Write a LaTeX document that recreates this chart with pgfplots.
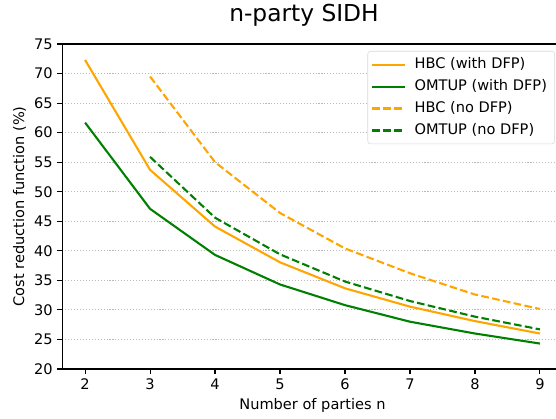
\documentclass[border=0pt]{standalone}
\usepackage{fontspec}
\setmainfont{DejaVu Sans}
\usepackage{pgfplots}
\pgfplotsset{compat=1.18}
\definecolor{mplorange}{HTML}{FFA500}
\definecolor{mplgreen}{HTML}{008000}
\begin{document}
\begin{tikzpicture}
\path[use as bounding box] (-44.9pt,-36pt) rectangle (355.5pt,265.7pt);
\begin{axis}[
  scale only axis,
  width=360.3pt, height=234pt,
  xmin=1.65, xmax=9.35, ymin=20, ymax=75,
  xtick={2,3,4,5,6,7,8,9},
  ytick={20,25,30,35,40,45,50,55,60,65,70,75},
  /pgf/number format/assume math mode=true,
  tick align=outside,
  major tick length=3.5pt,
  every tick/.style={black, line width=0.8pt},
  axis line style={line width=0.8pt},
  xtick pos=bottom, ytick pos=left,
  tick label style={font=\fontsize{10.5}{12}\selectfont},
  ymajorgrids,
  major grid style={gray!55, line width=0.8pt, dash pattern=on 0.8pt off 1.32pt},
  title={n-party SIDH},
  title style={at={(axis description cs:0.483,1)}, anchor=base, font=\fontsize{16.8}{19}\selectfont, inner sep=0pt, yshift=10pt},
  xlabel={Number of parties n},
  ylabel={Cost reduction function (\%)},
  label style={font=\fontsize{10.5}{12}\selectfont},
  ylabel style={at={(axis description cs:0,0.5)}, anchor=south, yshift=26pt, inner sep=0pt},
  xlabel style={at={(axis description cs:0.5,0)}, anchor=north, yshift=-21pt, inner sep=0pt},
  legend style={at={(1,1)}, anchor=north east, xshift=-5.6pt, yshift=-5pt,
    draw=gray!30, rounded corners=2pt, font=\fontsize{10.5}{12}\selectfont,
    row sep=5.3pt, column sep=7pt, inner xsep=5.5pt, inner ysep=4.4pt,
    nodes={inner sep=0pt, text height=8pt, text depth=2.5pt}},
  legend cell align=left,
  legend image code/.code={\path[draw=none, fill=none, use as bounding box] (0pt,-1pt) rectangle (21.2pt,1pt); \draw[#1] (-2.5pt,0pt) -- (21.2pt,0pt);},
]
\addplot[mplorange, line width=1.5pt] coordinates {(2,72.3) (3,53.7) (4,44.1) (5,38.05) (6,33.65) (7,30.55) (8,28.1) (9,26.0)};
\addlegendentry{HBC (with DFP)}
\addplot[mplgreen, line width=1.5pt] coordinates {(2,61.7) (3,47.1) (4,39.3) (5,34.3) (6,30.8) (7,28.0) (8,26.0) (9,24.3)};
\addlegendentry{OMTUP (with DFP)}
\addplot[mplorange, line width=1.5pt, dash pattern=on 5.55pt off 2.4pt] coordinates {(3,69.5) (4,55.0) (5,46.4) (6,40.4) (7,36.2) (8,32.6) (9,30.15)};
\addlegendentry{HBC (no DFP)}
\addplot[mplgreen, line width=1.5pt, dash pattern=on 5.55pt off 2.4pt] coordinates {(3,55.9) (4,45.6) (5,39.4) (6,34.8) (7,31.5) (8,28.85) (9,26.7)};
\addlegendentry{OMTUP (no DFP)}
\end{axis}
\end{tikzpicture}
\end{document}
